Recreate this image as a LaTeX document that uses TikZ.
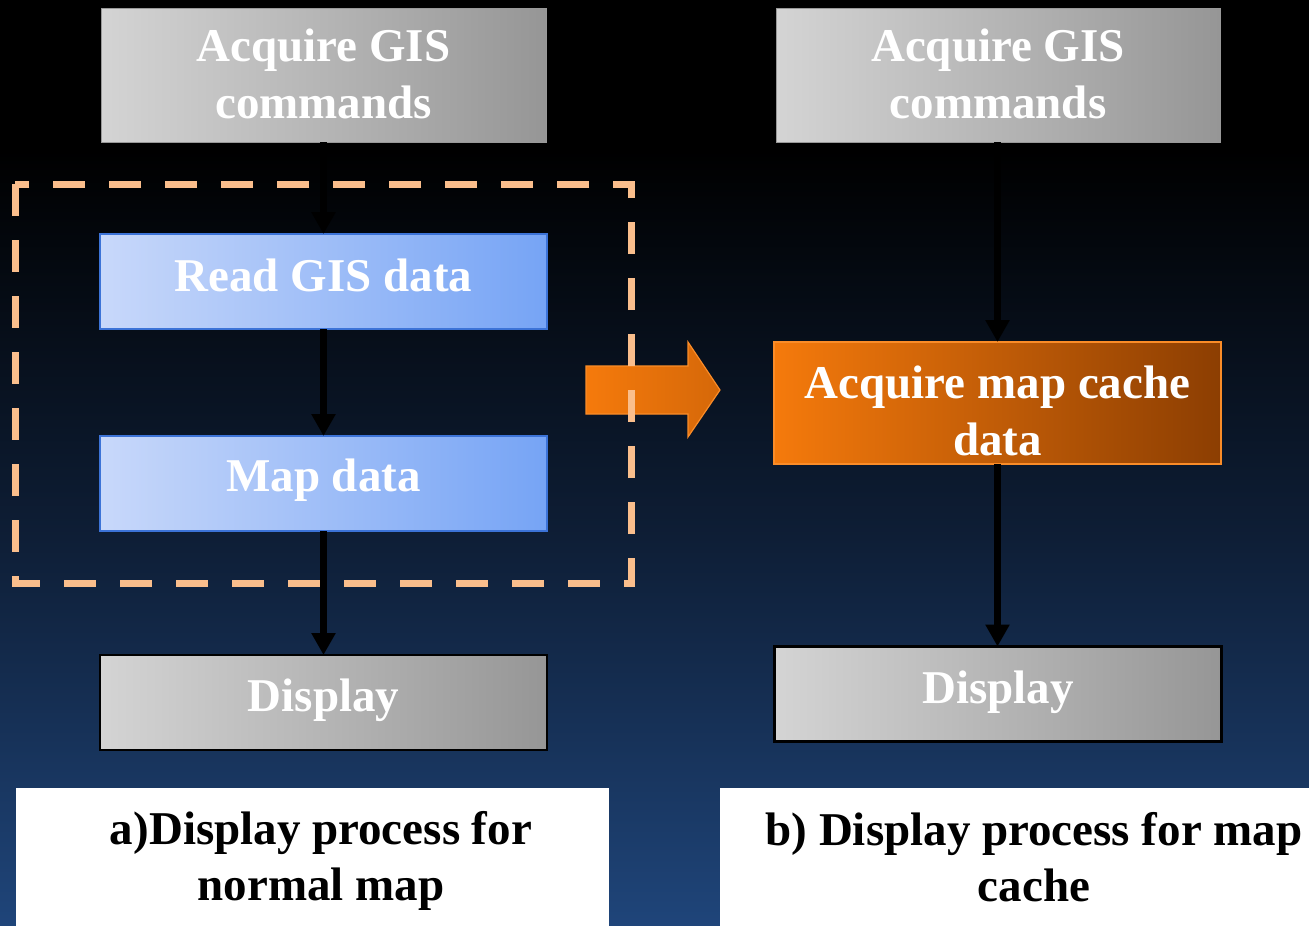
\documentclass[tikz,border=0pt]{standalone}
\usepackage{fontspec}
\setmainfont{Liberation Serif}
\usetikzlibrary{arrows.meta}
\definecolor{bgmid}{RGB}{14,30,54}
\definecolor{bgbot}{RGB}{31,69,122}
\definecolor{grayL}{RGB}{212,212,212}
\definecolor{grayR}{RGB}{150,150,150}
\definecolor{blueL}{RGB}{200,216,250}
\definecolor{blueR}{RGB}{118,164,245}
\definecolor{blueB}{RGB}{60,115,215}
\definecolor{orL}{RGB}{245,122,12}
\definecolor{orR}{RGB}{140,62,2}
\definecolor{orB}{RGB}{250,140,40}
\definecolor{dashc}{RGB}{250,190,140}
\tikzset{
  box/.style={rectangle, inner sep=0pt, outer sep=0pt, minimum width=447pt, minimum height=95pt},
  boxtxt/.style={align=center, text=white, inner sep=0pt, font=\fontsize{47}{57}\selectfont\bfseries},
  graybox/.style={box, left color=grayL, right color=grayR, draw=gray!80, line width=1pt},
  grayblk/.style={box, left color=grayL, right color=grayR, draw=black, line width=2.5pt},
  bluebox/.style={box, left color=blueL, right color=blueR, draw=blueB, line width=2pt},
  orbox/.style={box, left color=orL, right color=orR, draw=orB, line width=2.5pt},
  flow/.style={line width=6.5pt, draw=black, -{Triangle[width=23pt,length=22pt]}},
  lbltext/.style={align=center, text=black, font=\fontsize{47}{56}\selectfont\bfseries}
}
\begin{document}
\begin{tikzpicture}[x=1pt,y=-1pt]
\useasboundingbox (0,0) rectangle (1309,926);
\fill[black] (0,0) rectangle (1309,151);
\shade[top color=black, bottom color=bgbot, middle color=bgmid] (0,150) rectangle (1309,926);
% left column
\node[graybox, minimum width=445pt, minimum height=134pt,
  label={[boxtxt, yshift=1pt]center:Acquire GIS\\commands}] (a1) at (323.5,75) {};
\node[bluebox, label={[boxtxt, yshift=6pt]center:Read GIS data}] (a2) at (323.5,281.5) {};
\node[bluebox, label={[boxtxt, yshift=3pt]center:Map data}] (a3) at (323.5,483.5) {};
\node[grayblk, label={[boxtxt, yshift=2pt]center:Display}] (a4) at (323.5,702.5) {};
% right column
\node[graybox, minimum width=444pt, minimum height=134pt,
  label={[boxtxt, yshift=1pt]center:Acquire GIS\\commands}] (b1) at (998,75) {};
\node[orbox, minimum height=122pt,
  label={[boxtxt, yshift=-8pt]center:Acquire map cache\\data}] (b2) at (997.5,403) {};
\node[grayblk, label={[boxtxt, yshift=2pt]center:Display}] (b3) at (998,694) {};
% arrows
\draw[flow] (a1.south) -- (a2.north);
\draw[flow] (a2.south) -- (a3.north);
\draw[flow] (a3.south) -- (a4.north);
\draw[flow] (b1.south -| b2.north) -- (b2.north);
\draw[flow] (b2.south) -- (b3.north -| b2.south);
% block arrow
\coordinate (p1) at (586,366);
\coordinate (p2) at (688,366);
\coordinate (p3) at (688,342);
\coordinate (p4) at (720,390);
\coordinate (p5) at (688,437);
\coordinate (p6) at (688,414);
\coordinate (p7) at (586,414);
\shade[left color=orL, right color=orL!70!orR, draw=orB, line width=1.2pt, line join=miter]
  (p1) -- (p2) -- (p3) -- (p4) -- (p5) -- (p6) -- (p7) -- cycle;
% dashed region
\draw[dashc, line width=7pt, dash pattern=on 32pt off 24pt] (15,184) rectangle (631,583);
% labels
\fill[white] (16,788) rectangle (609,926);
\fill[white] (720,788) rectangle (1309,926);
\node[lbltext] (lat) at (321,861) {a)Display process for\\normal map};
\node[lbltext] (lbt) at (1034,857) {b) Display process for map\\cache};
\end{tikzpicture}
\end{document}
